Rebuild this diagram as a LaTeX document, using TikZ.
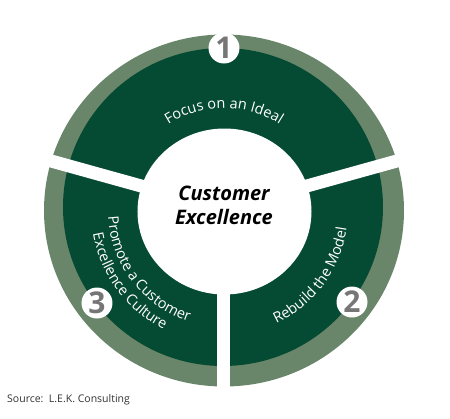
\documentclass[tikz,border=0pt]{standalone}
\usepackage{fontspec}
\setmainfont{Open Sans}
\usetikzlibrary{decorations.text}
\definecolor{darkgreen}{HTML}{054A33}
\definecolor{lightgreen}{HTML}{6A866A}
\definecolor{numgray}{HTML}{767676}
\definecolor{srcgray}{HTML}{333333}
\newcommand\arcfont{\fontsize{14.5}{14.5}\selectfont}
\begin{document}
\begin{tikzpicture}[x=1pt,y=1pt,
  gapband/.style={draw=white,line width=13pt},
  numcircle/.style={circle,fill=white,minimum size=31pt,inner sep=0pt,
    font=\fontsize{30}{30}\selectfont\bfseries,text=numgray},
  arctext/.style={decorate,decoration={text along path,text align=center,
    text color=white,text={|\arcfont|#1}}}]
\useasboundingbox (-224,-207) rectangle (226,211);
\fill[white] (-224,-207) rectangle (226,211);
% rings
\fill[lightgreen] (0,0.5) ellipse [x radius=180, y radius=176];
\fill[darkgreen] (-1,4) ellipse [x radius=160, y radius=159];
% gaps
\coordinate (c) at (0,2);
\coordinate (ga) at (164:230);
\coordinate (gb) at (16:230);
\coordinate (gc0) at (-0.5,2);
\coordinate (gc) at (-0.5,-230);
\draw[gapband] (c) -- (ga);
\draw[gapband] (c) -- (gb);
\draw[gapband] (gc0) -- (gc);
% centre
\fill[white] (0.5,-0.5) ellipse [x radius=87, y radius=83];
\node[font=\fontsize{20}{24}\selectfont\bfseries\itshape,align=center] (title) at (0,6) {Customer\\Excellence};
% curved labels
\path[arctext={Focus on an Ideal}] (135:103) arc[start angle=135,end angle=45,radius=103];
\path[arctext={Rebuild the Model}] (-90:124) arc[start angle=-90,end angle=17,radius=124];
\path[arctext={Promote a Customer}] (160:116) arc[start angle=160,end angle=275,radius=116];
\path[arctext={Excellence Culture}] (165:133) arc[start angle=165,end angle=268,radius=133];
% numbers
\node[numcircle] (n1) at (0,163) {1};
\node[numcircle] (n2) at (128,-91) {2};
\node[numcircle] (n3) at (-127,-92) {3};
% source
\node[anchor=base west,inner sep=0pt,font=\fontsize{10.5}{12}\selectfont,text=srcgray] (src) at (-217,-191) {Source:\ \ L.E.K. Consulting};
\end{tikzpicture}
\end{document}
